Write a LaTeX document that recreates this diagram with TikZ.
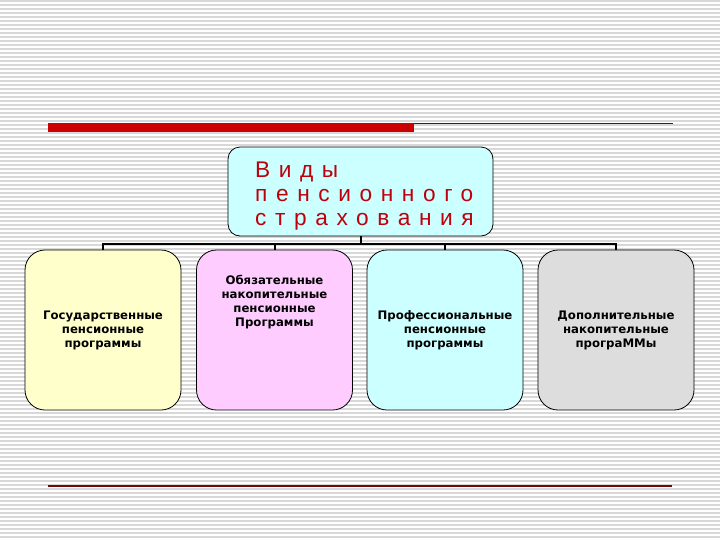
\documentclass[tikz,border=0pt]{standalone}
\usepackage{fontspec}
\setmainfont{Liberation Sans}
\newfontfamily\titlefont[LetterSpace=38]{Liberation Sans}
\newfontfamily\boxfont{DejaVu Sans}
\usetikzlibrary{positioning}
\definecolor{barred}{RGB}{204,0,0}
\definecolor{linered}{RGB}{110,10,10}
\definecolor{titlered}{RGB}{190,0,10}
\definecolor{stripegray}{RGB}{216,216,216}
\definecolor{yellowfill}{RGB}{255,255,204}
\definecolor{pinkfill}{RGB}{255,204,255}
\definecolor{cyanfill}{RGB}{204,255,255}
\definecolor{grayfill}{RGB}{221,221,221}

\begin{document}
\begin{tikzpicture}[x=0.75pt,y=0.75pt,yscale=-1,
    progbox/.style={draw, rounded corners=15pt, line width=0.6pt, minimum width=117pt, minimum height=120pt, align=center, inner sep=0.75pt, font=\boxfont\bfseries\fontsize{8.8}{10.5}\selectfont},
    titlebox/.style={draw, rounded corners=9pt, line width=0.6pt, fill=cyanfill, minimum width=198.75pt, minimum height=66.75pt, align=left, text width=158pt, text=titlered, font=\titlefont\fontsize{17}{18.3}\selectfont},
    bus/.style={line width=1.5pt}
    ]
    \useasboundingbox (0,0) rectangle (720,540);
    %Striped background
    \fill[white] (0,0) rectangle (720,540);
    \foreach \y in {1,5,...,537} \draw[stripegray, line width=1.1pt] (0,\y) -- (720,\y);

    %Shape: Red bar and rules
    \fill[barred] (48,123) rectangle (414,132);
    \draw[linered, line width=0.9pt] (414,123.5) -- (673,123.5);
    \draw[linered, line width=1.1pt] (48,486) -- (672,486);

    % Title Node
    \node[titlebox] (kinds) at (360.5,191.5) {\rule{0pt}{18.5pt}Виды\\пенсионного\\страхования};

    % Program Nodes
    \node[progbox, fill=yellowfill] (state) at (103,330) {Государственные\\пенсионные\\программы};
    \node[progbox, fill=pinkfill, label={[anchor=north, yshift=-16pt, align=center, font=\boxfont\bfseries\fontsize{8.8}{10.5}\selectfont]north:Обязательные\\накопительные\\пенсионные\\Программы}] (mandatory) at (274.5,330) {};
    \node[progbox, fill=cyanfill] (profess) at (445,330) {Профессиональные\\пенсионные\\программы};
    \node[progbox, fill=grayfill] (extra) at (616,330) {Дополнительные\\накопительные\\програММы};

    %Connectors
    \coordinate (fork) at (360.5,244);
    \draw[bus] (kinds.south) -- (fork);
    \draw[bus] (fork) -| (state.north);
    \draw[bus] (fork) -| (mandatory.north);
    \draw[bus] (fork) -| (profess.north);
    \draw[bus] (fork) -| (extra.north);
\end{tikzpicture}
\end{document}
